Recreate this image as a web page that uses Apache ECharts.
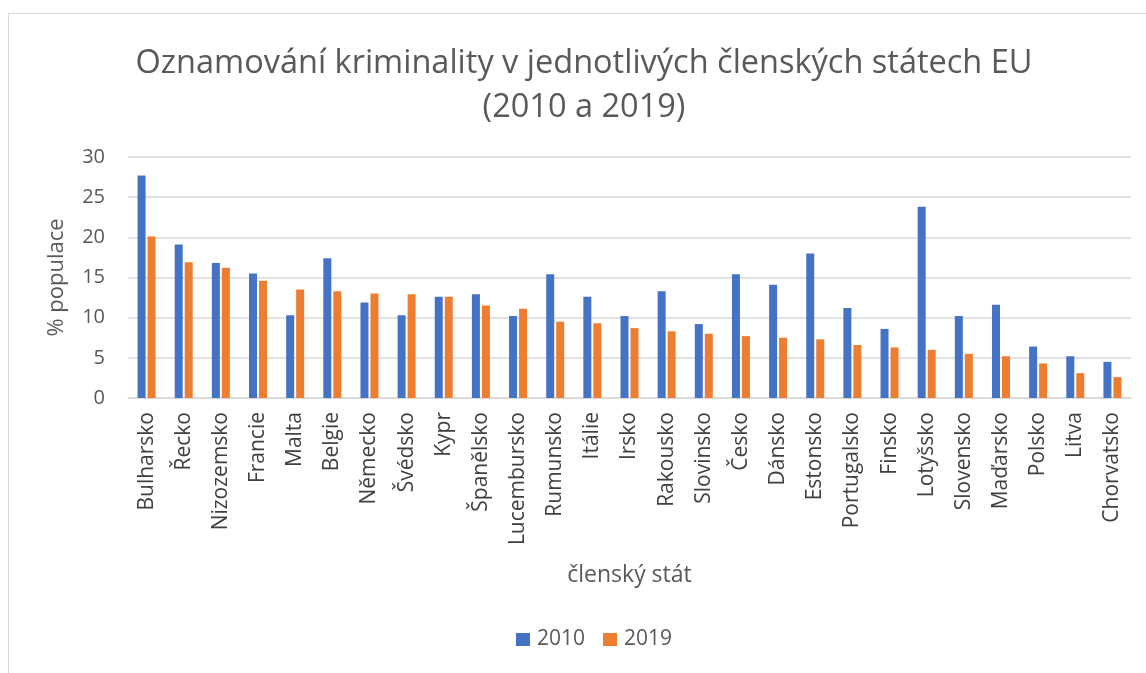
<!DOCTYPE html>
<html>
<head>
<meta charset="utf-8">
<script src="https://cdn.jsdelivr.net/npm/echarts@6/dist/echarts.min.js"></script>
<style>
  html, body { margin: 0; padding: 0; background: #fff; }
  #chart { width: 1146px; height: 673px; }
</style>
</head>
<body>
<div id="chart"></div>
<script>
// členské státy
const states = ['Bulharsko', 'Řecko', 'Nizozemsko', 'Francie', 'Malta', 'Belgie', 'Německo', 'Švédsko', 'Kypr',
  'Španělsko', 'Lucembursko', 'Rumunsko', 'Itálie', 'Irsko', 'Rakousko', 'Slovinsko', 'Česko', 'Dánsko',
  'Estonsko', 'Portugalsko', 'Finsko', 'Lotyšsko', 'Slovensko', 'Maďarsko', 'Polsko', 'Litva', 'Chorvatsko']
// % populace 2010
const values2010 = [27.7, 19.1, 16.8, 15.5, 10.3, 17.4, 11.9, 10.3, 12.6,
  12.9, 10.2, 15.4, 12.6, 10.2, 13.3, 9.2, 15.4, 14.1,
  18.0, 11.2, 8.6, 23.8, 10.2, 11.6, 6.4, 5.2, 4.5]
// % populace 2019
const values2019 = [20.1, 16.9, 16.2, 14.6, 13.5, 13.3, 13.0, 12.9, 12.6,
  11.5, 11.1, 9.5, 9.3, 8.7, 8.3, 8.0, 7.7, 7.5,
  7.3, 6.6, 6.3, 6.0, 5.5, 5.2, 4.3, 3.1, 2.6]
const yTicks = [0, 5, 10, 15, 20, 25, 30]

const textColor = '#595959'
const chart = echarts.init(document.getElementById('chart'))

const option = {
  animation: false,
  backgroundColor: '#fff',
  color: ['#4472C4', '#ED7D31'],
  graphic: [
    {
      // rámeček grafu
      type: 'rect',
      shape: { x: 8.5, y: 13.5, width: 1150, height: 670 },
      style: { fill: 'none', stroke: '#d9d9d9', lineWidth: 1 },
      silent: true
    }
  ],
  title: {
    text: 'Oznamování kriminality v jednotlivých členských státech EU\n(2010 a 2019)',
    left: 579,
    top: 37,
    textAlign: 'center',
    textStyle: {
      color: textColor,
      fontFamily: 'Open Sans',
      fontWeight: 'normal',
      fontSize: 32.5,
      lineHeight: 44
    }
  },
  grid: {
    left: 128,
    right: 15,
    top: 157,
    bottom: 275
  },
  legend: {
    bottom: 18,
    left: 511,
    itemWidth: 14,
    itemHeight: 13,
    itemGap: 18,
    icon: 'rect',
    textStyle: {
      color: textColor,
      fontFamily: 'Open Sans',
      fontSize: 21,
      padding: [0, 0, 0, 2]
    },
    data: ['2010', '2019']
  },
  xAxis: {
    type: 'category',
    data: states,
    name: 'členský stát',
    nameLocation: 'middle',
    nameGap: 166,
    nameTextStyle: { color: textColor, fontFamily: 'Open Sans', fontSize: 23 },
    axisTick: { show: false },
    axisLine: { lineStyle: { color: '#d9d9d9', width: 1.5 } },
    axisLabel: {
      rotate: 90,
      interval: 0,
      margin: 14,
      color: '#404040',
      fontFamily: 'Open Sans',
      fontSize: 21
    }
  },
  yAxis: {
    type: 'value',
    min: yTicks[0],
    max: yTicks[yTicks.length - 1],
    interval: 5,
    name: '% populace',
    nameLocation: 'middle',
    nameGap: 60,
    nameTextStyle: { color: textColor, fontFamily: 'Open Sans', fontSize: 22 },
    axisLine: { show: false },
    axisTick: { show: false },
    axisLabel: {
      margin: 23,
      color: textColor,
      fontFamily: 'Open Sans',
      fontSize: 20
    },
    splitLine: { lineStyle: { color: '#d9d9d9', width: 1.5 } }
  },
  series: [
    {
      name: '2010',
      type: 'bar',
      data: values2010,
      barWidth: 8,
      barGap: '25%'
    },
    {
      name: '2019',
      type: 'bar',
      data: values2019,
      barWidth: 8
    }
  ]
}
chart.setOption(option)
</script>
</body>
</html>
